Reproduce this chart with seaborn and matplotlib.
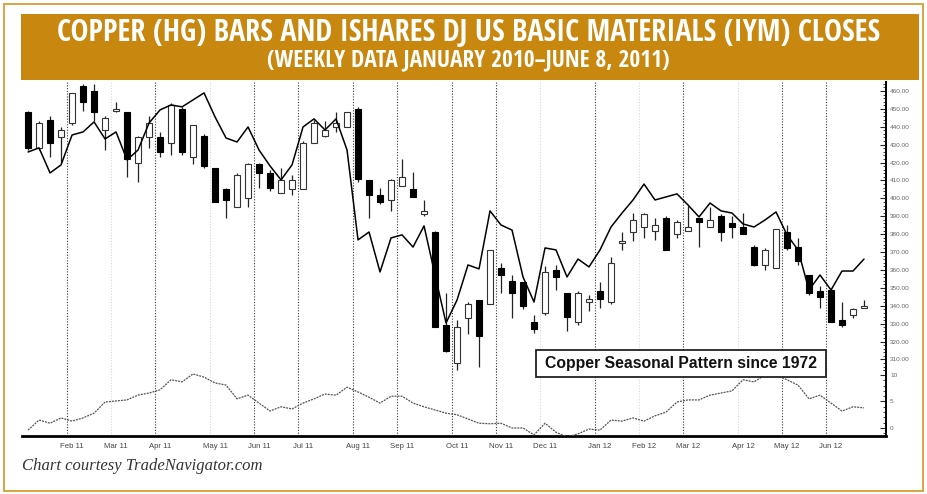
import matplotlib
matplotlib.use("Agg")
import matplotlib.pyplot as plt
import seaborn as sns
from matplotlib import font_manager as fm
from matplotlib.font_manager import FontProperties
from matplotlib.patches import Rectangle
from matplotlib.ticker import MultipleLocator, FixedLocator

# ---------------- data ----------------
weeks = list(range(77))
copper_open = [448, 428, 444, 434, 442, 463, 460, 438, 449, 448, 420, 434, 434, 431, 450, 423,
               435, 417, 405, 395, 400, 419, 414, 403, 405, 405, 431, 435, 440, 440, 450, 410,
               402, 399, 407, 405, 391, 381, 329, 308, 333, 343, 341, 361, 354, 353, 331, 336,
               360, 347, 331, 342, 348, 342, 375, 381, 384, 382, 389, 380, 382, 389, 384, 390,
               386, 384, 373, 363, 361, 381, 373, 357, 348, 349, 332, 335, 339]
copper_high = [449, 443, 446, 440, 459, 464, 464, 446, 454, 448, 435, 446, 437, 453, 451, 441,
               436, 417, 406, 414, 420, 420, 416, 417, 413, 432, 444, 443, 448, 448, 451, 410,
               406, 411, 422, 415, 399, 382, 347, 332, 342, 343, 371, 364, 357, 353, 335, 362,
               363, 347, 348, 346, 353, 367, 381, 392, 392, 389, 390, 388, 396, 389, 395, 391,
               390, 392, 374, 372, 383, 385, 378, 357, 351, 350, 342, 339, 343]
copper_low = [427, 427, 423, 420, 441, 449, 443, 427, 448, 412, 409, 428, 423, 424, 424, 419,
              417, 398, 389, 395, 395, 406, 404, 403, 402, 405, 431, 434, 437, 440, 409, 389,
              397, 393, 407, 401, 390, 328, 314, 304, 324, 306, 341, 347, 333, 338, 325, 335,
              349, 326, 329, 337, 339, 341, 371, 376, 378, 377, 371, 378, 382, 373, 384, 376,
              378, 380, 362, 360, 361, 371, 363, 346, 339, 331, 328, 333, 339]
copper_close = [428, 442, 431, 438, 459, 454, 448, 445, 450, 422, 434, 442, 426, 452, 426, 441,
                418, 398, 399, 413, 419, 414, 406, 410, 410, 431, 442, 438, 442, 448, 411, 402,
                398, 410, 412, 401, 393, 328, 315, 328, 341, 323, 371, 357, 347, 340, 327, 359,
                356, 334, 347, 344, 344, 364, 376, 388, 391, 385, 371, 387, 384, 387, 388, 381,
                384, 380, 363, 371, 383, 372, 365, 347, 345, 331, 329, 338, 340]
# IYM closes, read against the copper price scale
iym_close = [425.9, 428.2, 414.2, 418.7, 435.4, 437.1, 442.7, 433.2, 437.1, 421.5, 427.0, 442.1,
             449.4, 452.2, 451.1, 455.0, 458.9, 445.5, 433.7, 431.5, 439.9, 427.0, 418.1, 410.3,
             418.7, 439.9, 444.4, 438.2, 444.4, 427.0, 376.8, 381.2, 358.9, 377.9, 379.6, 372.8,
             384.6, 357.2, 330.4, 343.2, 362.8, 360.6, 393.0, 385.1, 382.3, 356.1, 342.1, 372.3,
             371.2, 356.1, 366.1, 361.7, 371.2, 384.0, 391.8, 399.1, 408.0, 399.1, 400.8, 402.5,
             396.3, 389.6, 397.4, 393.0, 391.8, 385.7, 384.0, 387.9, 392.4, 379.6, 371.2, 348.8,
             357.2, 348.8, 359.4, 359.4, 366.1]
seasonal = [-0.4, 1.5, 0.9, 1.9, 1.3, 1.9, 2.8, 4.9, 5.1, 5.3, 6.2, 6.6, 7.2, 9.1, 8.7, 10.2,
            9.6, 8.5, 8.1, 5.5, 6.2, 4.7, 3.2, 4.0, 3.6, 4.7, 5.5, 6.4, 6.2, 7.7, 6.8, 5.8,
            4.7, 6.0, 6.0, 4.7, 4.0, 3.4, 2.8, 2.5, 1.7, 0.9, 0.8, 0.9, 0.0, 0.0, -1.3, 0.9,
            -0.8, -1.7, -1.1, -0.2, -0.4, 1.5, 1.3, 1.9, 1.3, 2.3, 3.0, 4.9, 5.3, 5.3, 6.2,
            6.6, 7.0, 9.1, 8.7, 10.0, 10.0, 9.1, 8.1, 5.5, 6.2, 4.7, 3.2, 4.0, 3.8]
month_labels = ["Feb 11", "Mar 11", "Apr 11", "May 11", "Jun 11", "Jul 11", "Aug 11", "Sep 11",
                "Oct 11", "Nov 11", "Dec 11", "Jan 12", "Feb 12", "Mar 12", "Apr 12", "May 12",
                "Jun 12"]
month_pos = [4, 8, 12, 17, 21, 25, 30, 34, 39, 43, 47, 52, 56, 60, 65, 69, 73]
dark_months = ["Feb 11", "Apr 11", "Jun 11", "Jul 11", "Aug 11", "Sep 11", "Oct 11", "Nov 11",
               "Jan 12", "Mar 12", "May 12", "Jun 12"]
price_ticks = [460, 450, 440, 430, 420, 410, 400, 390, 380, 370, 360, 350, 340, 330, 320, 310]
seasonal_ticks = [10, 5, 0]
title_line1 = "COPPER (HG) BARS AND ISHARES DJ US BASIC MATERIALS (IYM) CLOSES"
title_line2 = "(WEEKLY DATA JANUARY 2010\u2013JUNE 8, 2011)"
legend_text = "Copper Seasonal Pattern since 1972"
footer_text = "Chart courtesy TradeNavigator.com"

# ---------------- style ----------------
sns.set_style("white")
avail = {f.name for f in fm.fontManager.ttflist}
sans = "Liberation Sans" if "Liberation Sans" in avail else "DejaVu Sans"
serif = "Liberation Serif" if "Liberation Serif" in avail else "DejaVu Serif"
plt.rcParams["font.family"] = [sans, "DejaVu Sans"]


def pick_condensed_bold():
    stretch_rank = {"ultra-condensed": 1, "extra-condensed": 2, "condensed": 3,
                    "semi-condensed": 4}
    fam_rank = {"Open Sans": 0, "Noto Sans": 1, "Roboto": 2, "Liberation Sans Narrow": 3,
                "DejaVu Sans": 4}
    best = None
    for f in fm.fontManager.ttflist:
        w = f.weight if isinstance(f.weight, int) else (700 if "bold" in str(f.weight) else 400)
        if w < 600 or w > 800 or f.style != "normal":
            continue
        st = f.stretch if isinstance(f.stretch, str) else "normal"
        nm = f.name
        srank = stretch_rank.get(st, None)
        if srank is None:
            if "SemiCondensed" in nm:
                srank = 4
            elif "Condensed" in nm or "Narrow" in nm:
                srank = 3
            else:
                continue
        frank = min([v for k, v in fam_rank.items() if nm.startswith(k)] or [9])
        key = (frank, abs(srank - 4), abs(w - 700))
        if best is None or key < best[0]:
            best = (key, f.fname)
    if best is None:
        return FontProperties(family=[sans], weight="bold")
    return FontProperties(fname=best[1])


title_fp = pick_condensed_bold()

W, H = 927, 494
fig = plt.figure(figsize=(W / 100, H / 100), dpi=100)
fig.patch.set_facecolor("white")


def fx(px):
    return px / W


def fy(py):
    return 1 - py / H


# border and banner
fig.patches.append(Rectangle((fx(4), fy(491)), fx(919), 487 / H, transform=fig.transFigure,
                             fill=False, edgecolor="#D9A441", lw=1.4, zorder=0))
fig.patches.append(Rectangle((fx(21), fy(80)), fx(898), 66 / H, transform=fig.transFigure,
                             facecolor="#C8870E", edgecolor="none", zorder=0))

# axes
ax = fig.add_axes([fx(22), fy(372), fx(864), 290 / H])
ax2 = fig.add_axes([fx(22), fy(436), fx(864), 68 / H], sharex=ax)
for a in (ax, ax2):
    a.set_facecolor("none")
    for s in ("left", "top"):
        a.spines[s].set_visible(False)
    a.spines["right"].set_color("black")
    a.spines["right"].set_linewidth(1.4)
    a.yaxis.tick_right()
ax.spines["bottom"].set_visible(False)
ax2.spines["bottom"].set_color("black")
ax2.spines["bottom"].set_linewidth(2.0)

ax.set_xlim(-0.55, 78)
ax.set_ylim(303.0, 465.0)
ax2.set_ylim(-1.51, 11.32)

# month separators
for lab, pos in zip(month_labels, month_pos):
    col = "#3a3a3a" if lab in dark_months else "#d8d8d8"
    for a in (ax, ax2):
        a.axvline(pos - 0.5, color=col, lw=0.8, ls=(0, (1, 1.5)), zorder=1)

# candlesticks
up = [i for i in weeks if copper_close[i] >= copper_open[i]]
dn = [i for i in weeks if copper_close[i] < copper_open[i]]
ax.vlines(weeks, copper_low, copper_high, color="#222222", lw=0.9, zorder=2)
ax.bar(up, [max(copper_close[i] - copper_open[i], 0.6) for i in up],
       bottom=[copper_open[i] for i in up], width=0.62, facecolor="white",
       edgecolor="#333333", linewidth=0.8, zorder=3)
ax.bar(dn, [copper_open[i] - copper_close[i] for i in dn],
       bottom=[copper_close[i] for i in dn], width=0.62, facecolor="black",
       edgecolor="black", linewidth=0.8, zorder=3)

# IYM close line
sns.lineplot(x=weeks, y=iym_close, ax=ax, color="black", lw=1.1, zorder=4, estimator=None)
# seasonal pattern
sns.lineplot(x=weeks, y=seasonal, ax=ax2, color="#555555", lw=0.9, estimator=None,
             linestyle=(0, (1.6, 0.8)), zorder=4)

# ticks
ax.yaxis.set_major_locator(FixedLocator(price_ticks))
ax.set_yticklabels([f"{v:.2f}" for v in price_ticks])
ax.yaxis.set_minor_locator(MultipleLocator(2))
ax2.yaxis.set_major_locator(FixedLocator(seasonal_ticks))
ax2.set_yticklabels([str(v) for v in seasonal_ticks])
ax2.yaxis.set_minor_locator(MultipleLocator(1))
for a in (ax, ax2):
    a.tick_params(axis="y", which="major", direction="in", length=4, width=0.8,
                  labelsize=4.6, labelcolor="#666666", pad=3, right=True, left=False)
    a.tick_params(axis="y", which="minor", direction="in", length=2, width=0.6,
                  right=True, left=False)
    a.set_xlabel("")
    a.set_ylabel("")
ax.tick_params(axis="x", which="both", bottom=False, labelbottom=False)
ax2.set_xticks(month_pos)
ax2.set_xticklabels(month_labels)
ax2.tick_params(axis="x", which="both", length=0, labelsize=5.6, labelcolor="#444444", pad=5)

# legend box
fig.patches.append(Rectangle((fx(536), fy(377)), fx(290), 27 / H, transform=fig.transFigure,
                             facecolor="white", edgecolor="#222222", lw=1.3, zorder=5))
lt = fig.text(fx(681), fy(363.5), legend_text, ha="center", va="center", fontsize=10.5,
              weight="bold", color="#111111", zorder=6)

# title
fp1 = title_fp.copy()
fp1.set_size(16)
fp2 = title_fp.copy()
fp2.set_size(13)
t1 = fig.text(fx(469), fy(33), title_line1, ha="center", va="center", color="white",
              fontproperties=fp1)
t2 = fig.text(fx(468), fy(60), title_line2, ha="center", va="center", color="white",
              fontproperties=fp2)
ft = fig.text(fx(22), fy(466), footer_text, ha="left", va="center", color="#333333",
              style="italic", family=[serif, "DejaVu Serif"], fontsize=12)

fig.canvas.draw()
r = fig.canvas.get_renderer()
for t, target in ((t1, 822), (t2, 403), (ft, 240), (lt, 272)):
    w = t.get_window_extent(r).width
    t.set_fontsize(t.get_fontsize() * target / w)

fig.savefig("out.png", dpi=100)
